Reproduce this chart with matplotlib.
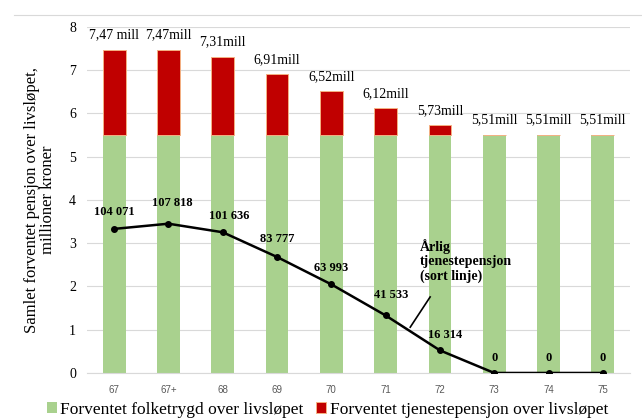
import numpy as np
import matplotlib.pyplot as plt
from matplotlib.lines import Line2D

# data
ages = ['67', '67+', '68', '69', '70', '71', '72', '73', '74', '75']
folketrygd = [5.51, 5.51, 5.51, 5.51, 5.51, 5.51, 5.51, 5.51, 5.51, 5.51]
totals = [7.47, 7.47, 7.31, 6.91, 6.52, 6.12, 5.73, 5.51, 5.51, 5.51]
total_labels = ['7,47 mill', '7,47mill', '7,31mill', '6,91mill', '6,52mill',
                '6,12mill', '5,73mill', '5,51mill', '5,51mill', '5,51mill']
aarlig = [104071, 107818, 101636, 83777, 63993, 41533, 16314, 0, 0, 0]
aarlig_labels = ['104 071', '107 818', '101 636', '83 777', '63 993',
                 '41 533', '16 314', '0', '0', '0']

serif = 'Liberation Serif'
green = '#A9D18E'
red = '#C00000'

fig = plt.figure(figsize=(6.42, 4.2), dpi=100)
ax = fig.add_axes([0.1355, 0.112, 0.8458, 0.824])

x = np.arange(len(ages))
tjeneste = np.array(totals) - np.array(folketrygd)
ax.bar(x, folketrygd, width=0.42, color=green, zorder=2,
       label='Forventet folketrygd over livsløpet')
ax.bar(x, tjeneste, width=0.42, bottom=folketrygd, color=red,
       edgecolor='#F4B183', linewidth=0.7, zorder=2,
       label='Forventet tjenestepensjon over livsløpet')

for xi, top, lab in zip(x, totals, total_labels):
    ax.text(xi, top + 0.34, lab, ha='center', va='center',
            fontfamily=serif, fontsize=10)

ax.set_xlim(-0.5, len(ages) - 0.5)
ax.set_ylim(0, 8)
ax.set_yticks(range(0, 9))
ax.set_xticks(x)
ax.set_xticklabels(ages, fontsize=7, color='#595959', family='Liberation Sans')
for t in ax.get_yticklabels():
    t.set_fontfamily(serif)
    t.set_fontsize(10)
ax.tick_params(axis='both', length=0)
ax.tick_params(axis='x', pad=9)
ax.tick_params(axis='y', pad=8)
ax.grid(axis='y', color='#D9D9D9', linewidth=0.8, zorder=0)
for s in ['top', 'right', 'left']:
    ax.spines[s].set_visible(False)
ax.spines['bottom'].set_color('#D9D9D9')
ax.set_ylabel('Samlet forventet pensjon over livsløpet,\nmillioner kroner',
              fontfamily=serif, fontsize=12, labelpad=9, linespacing=1.0)

# annual pension line on hidden secondary axis
ax2 = ax.twinx()
ax2.set_ylim(0, 250000)
ax2.axis('off')
ax2.plot(x, aarlig, color='black', linewidth=1.8, marker='o', markersize=4, zorder=3)
offsets = [(0, 12), (3, 15), (5, 12), (0, 13), (0, 12), (4, 15), (4, 11),
           (0, 11), (0, 11), (0, 11)]
for xi, v, lab, off in zip(x, aarlig, aarlig_labels, offsets):
    ax2.annotate(lab, (xi, v), xytext=off, textcoords='offset points',
                 ha='center', va='center', fontfamily=serif, fontsize=9,
                 fontweight='bold')

fig.text(0.654, 0.378, 'Årlig\ntjenestepensjon\n(sort linje)', ha='left', va='center',
         fontfamily=serif, fontsize=10, fontweight='bold', linespacing=1.15)
fig.add_artist(Line2D([0.670, 0.639], [0.293, 0.221], color='black', linewidth=1.2))

# chart border top
fig.add_artist(Line2D([0.022, 1.0], [0.964, 0.964], color='#D9D9D9', linewidth=0.8))

fig.legend(loc='center', bbox_to_anchor=(0.51, 0.024), ncol=2, frameon=False,
           prop={'family': serif, 'size': 12.5}, handlelength=0.6, handleheight=0.6,
           handletextpad=0.2, columnspacing=0.7)

fig.savefig('out.png', dpi=100)
